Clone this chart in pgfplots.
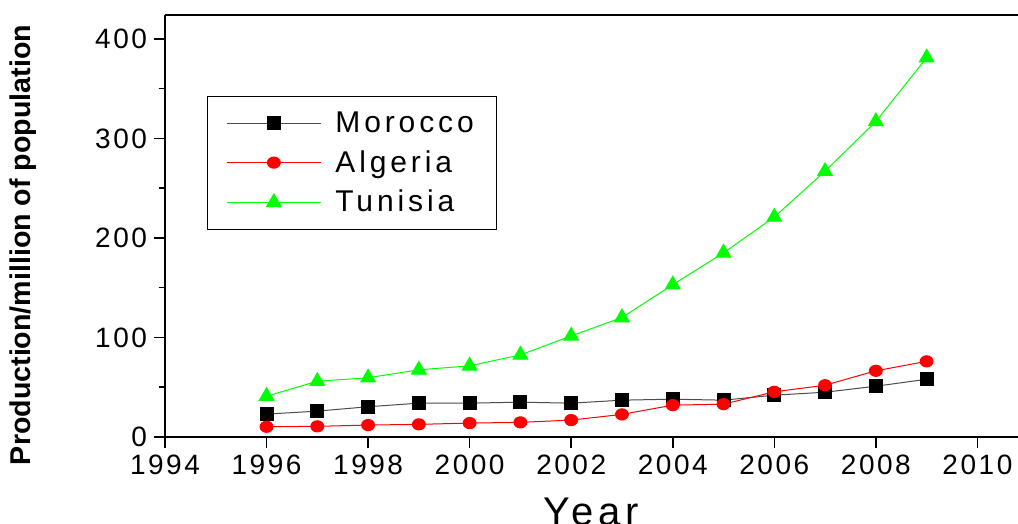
\documentclass[border=0pt]{standalone}
\usepackage{fontspec}
\setmainfont{Liberation Sans}
\newfontfamily\spaced[LetterSpace=9]{Liberation Sans}
\newfontfamily\spacedleg[LetterSpace=13]{Liberation Sans}
\newfontfamily\spacedbig[LetterSpace=12]{Liberation Sans}
\usepackage{pgfplots}
\usepackage{pgfplotstable}
\pgfplotsset{compat=1.18}

\pgfplotstableread{
year val
1996 23
1997 26
1998 30.4
1999 34
2000 34
2001 35
2002 34
2003 37
2004 38
2005 37
2006 42
2007 45
2008 51
2009 58
}\morocco
\pgfplotstableread{
year val
1996 10.3
1997 10.7
1998 12
1999 12.7
2000 14
2001 14.7
2002 17
2003 22.7
2004 32
2005 33
2006 45.4
2007 52
2008 66.5
2009 76
}\algeria
\pgfplotstableread{
year val
1996 41
1997 56
1998 59.5
1999 67.5
2000 71.5
2001 82.5
2002 101.5
2003 120
2004 153
2005 185
2006 221
2007 267
2008 317
2009 381
}\tunisia

\begin{document}
\begin{tikzpicture}
\begin{axis}[
  scale only axis, width=426.5pt, height=211pt,
  xmin=1994, xmax=2010.8, ymin=0, ymax=424,
  axis x line*=box, axis y line*=left, xtick pos=left,
  tick align=outside,
  xtick={1994,1996,...,2010}, minor x tick num=1,
  ytick={0,100,...,400}, minor y tick num=1,
  major tick length=5.5pt, minor tick length=3.2pt,
  every tick/.style={black, line width=0.75pt},
  axis line style={line width=1pt},
  /pgf/number format/assume math mode=true,
  /pgf/number format/1000 sep={},
  xticklabel style={font=\fontsize{14}{16}\selectfont\spaced},
  yticklabel style={font=\fontsize{14}{16}\selectfont\spaced},
  xlabel={Year},
  ylabel={Production/million of population},
  xlabel style={at={(axis description cs:0.5,0)}, anchor=base, yshift=-44.5pt, font=\fontsize{20}{24}\selectfont\spacedbig},
  ylabel style={at={(axis description cs:-0.166,0.455)}, anchor=center, font=\bfseries\fontsize{14.3}{16}\selectfont},
  legend style={at={(axis description cs:0.049,0.808)}, anchor=north west, draw=black, line width=0.6pt,
    font=\fontsize{15}{18}\selectfont\spacedleg, inner xsep=9.5pt, inner ysep=5.5pt,
    nodes={inner sep=2pt}, row sep=3.5pt,
    /tikz/every odd column/.append style={column sep=5pt}},
  legend cell align=left,
  legend image code/.code={\draw[mark repeat=2,mark phase=2] plot coordinates {(0pt,0pt)(23.5pt,0pt)(47pt,0pt)};},
]
\addplot[draw=black!70, line width=0.5pt, mark=square*, mark size=3.25pt, mark options={fill=black, draw=black, solid}] table[x=year,y=val] {\morocco};
\addlegendentry{Morocco}
\addplot[draw=red, line width=0.5pt, mark=*, mark size=2.8pt, mark options={fill=red, draw=red, xscale=1.15}] table[x=year,y=val] {\algeria};
\addlegendentry{Algeria}
\addplot[draw=green, line width=0.5pt, mark=triangle*, mark size=4.2pt, mark options={fill=green, draw=green}] table[x=year,y=val] {\tunisia};
\addlegendentry{Tunisia}
\end{axis}
\pgfresetboundingbox
\useasboundingbox (-82.5pt,-43.5pt) rectangle (426.5pt,218.5pt);
\end{tikzpicture}
\end{document}
